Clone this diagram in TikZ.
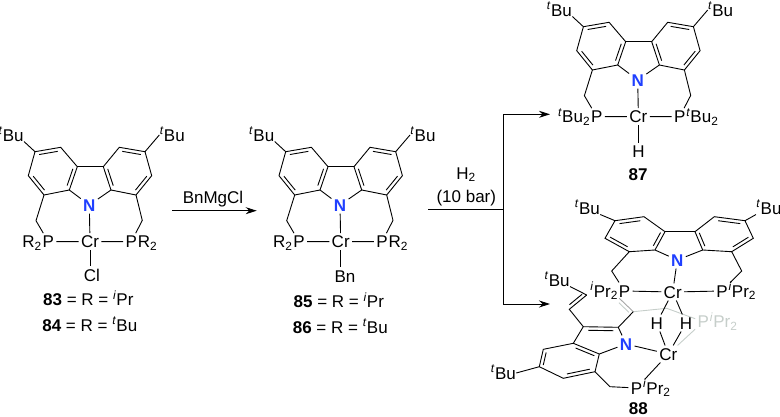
\documentclass[tikz,border=0pt]{standalone}
\usepackage{fontspec}
\setmainfont{Liberation Sans}
\usetikzlibrary{calc,positioning,arrows.meta}

\definecolor{palegrey}{HTML}{C6CECA}
\definecolor{nblue}{HTML}{1F3FFF}
\newcommand{\tBu}{\textsuperscript{\textit{t}}Bu}
\newcommand{\iPr}{\textsuperscript{\textit{i}}Pr}
\newcommand{\two}{\textsubscript{2}}

\tikzset{
    atom/.style={font=\fontsize{17}{19}\selectfont, inner sep=2pt, text height=12.2pt, text depth=0pt},
    subst/.style={atom, inner sep=0pt},
    nitro/.style={atom, font=\fontsize{17}{19}\selectfont\bfseries, text=nblue},
    ghost/.style={atom, text=palegrey},
    rxn/.style={-{Stealth[length=11pt,width=7pt]}},
}

% inner line of a double bond, on the left of (a)->(b)
\newcommand{\dbl}[2]{\draw ($(#1)!.14!(#2)!3.5pt!90:(#2)$) -- ($(#2)!.14!(#1)!3.5pt!-90:(#1)$);}

% rings, arms, N, Cr and both P from coordinates already set
\newcommand{\ligandbody}[1]{
    \node[nitro] (#1N) at (#1pN) {N};
    \node[atom] (#1Cr) at (#1pCr) {Cr};
    \node[atom] (#1Pl) at (#1pPl) {P};
    \node[atom] (#1Pr) at (#1pPr) {P};
    \draw (#1a1) -- (#1a2) -- (#1a3) -- (#1a4) -- (#1a5) -- (#1a6) -- cycle;
    \draw (#1b1) -- (#1b2) -- (#1b3) -- (#1b4) -- (#1b5) -- (#1b6) -- cycle;
    \draw (#1a3) -- (#1b3);
    \draw (#1a4) -- (#1N) -- (#1b4);
    \draw (#1N) -- (#1Cr);
    \draw (#1a5) -- (#1cl) -- (#1Pl) -- (#1Cr) -- (#1Pr) -- (#1cr) -- (#1b5);
    \dbl{#1a2}{#1a1} \dbl{#1a4}{#1a3} \dbl{#1a6}{#1a5}
    \dbl{#1b1}{#1b2} \dbl{#1b3}{#1b4} \dbl{#1b5}{#1b6}
}

% the usual pincer, placed by its N
\newcommand{\ligand}[3]{
    \begin{scope}[shift={(#2,#3)}]
        \coordinate (#1pN) at (0,0);
        \coordinate (#1pCr) at (0.7,36.7);
        \coordinate (#1pPl) at (-41,36.7);
        \coordinate (#1pPr) at (42,36.7);
        \coordinate (#1a1) at (-54.3,-53.3);
        \coordinate (#1a2) at (-28.6,-57.7);
        \coordinate (#1a3) at (-12,-38.3);
        \coordinate (#1a4) at (-20,-15);
        \coordinate (#1a5) at (-45.3,-10);
        \coordinate (#1a6) at (-61,-29.3);
        \coordinate (#1b1) at (55.7,-53.3);
        \coordinate (#1b2) at (30,-57.7);
        \coordinate (#1b3) at (14,-38.3);
        \coordinate (#1b4) at (21.7,-15);
        \coordinate (#1b5) at (46.7,-10);
        \coordinate (#1b6) at (62.4,-29.3);
        \coordinate (#1cl) at (-53.3,15.7);
        \coordinate (#1cr) at (53,15.4);
        \node[subst, anchor=east] (#1tl) at (-65.3,-70) {\tBu};
        \node[subst, anchor=west] (#1tr) at (70,-70) {\tBu};
    \end{scope}
    \ligandbody{#1}
    \draw (#1tl.south east) -- (#1a1);
    \draw (#1tr.west) -- (#1b1);
}

\begin{document}
\begin{tikzpicture}[x=1pt,y=-1pt,line width=.9pt]
    \useasboundingbox (0,0) rectangle (780,417);

    % 83 / 84
    \ligand{A}{89.3}{205}
    \node[subst, left=-2pt of APl] (AR1) {R\two};
    \node[subst, right=-2pt of APr] (AR2) {R\two};
    \node[atom] (ACl) at (92,275) {Cl};
    \draw (ACr) -- (ACr |- ACl.north);
    \node[subst] (L83) at (88.3,299.3) {\textbf{83} = R = \iPr};
    \node[subst] (L84) at (89.8,325) {\textbf{84} = R = \tBu};

    % 85 / 86
    \ligand{B}{340}{205}
    \node[subst, left=-2pt of BPl] (BR1) {R\two};
    \node[subst, right=-2pt of BPr] (BR2) {R\two};
    \node[atom] (BBn) at (345,276) {Bn};
    \draw (BCr) -- (BCr |- BBn.north);
    \node[subst] (L85) at (338.8,301.5) {\textbf{85} = R = \iPr};
    \node[subst] (L86) at (340.3,327) {\textbf{86} = R = \tBu};

    % 87
    \ligand{C}{637.7}{80}
    \node[subst, left=-2pt of CPl] (CR1) {\tBu\two};
    \node[subst, right=-2pt of CPr] (CR2) {\tBu\two};
    \node[atom] (CH) at (638.4,151.7) {H};
    \draw (CCr) -- (CH);
    \node[subst] (L87) at (638,174) {\textbf{87}};

    % reaction arrows
    \coordinate (S1) at (172,210.7);
    \coordinate (S2) at (256.7,210.7);
    \draw[rxn] (S1) -- (S2);
    \node[subst] (T1) at (213,197) {BnMgCl};
    \coordinate (S3) at (428.3,209.3);
    \coordinate (S4) at (503.3,209.3);
    \coordinate (S5) at (503.3,114.3);
    \coordinate (S6) at (550,114.3);
    \coordinate (S7) at (503.3,304);
    \coordinate (S8) at (550,304);
    \draw (S3) -- (S4);
    \draw[rxn] (S4) -- (S5) -- (S6);
    \draw[rxn] (S4) -- (S7) -- (S8);
    \node[subst] (T2) at (466,173) {H\two};
    \node[subst] (T3) at (466.3,196.7) {(10 bar)};

    % 88, upper half
    \coordinate (DpN) at (677.3,260);
    \coordinate (DpCr) at (672.7,292);
    \coordinate (DpPl) at (624.5,291);
    \coordinate (DpPr) at (722,291);
    \coordinate (Da1) at (615,220.7);
    \coordinate (Da2) at (644,216.7);
    \coordinate (Da3) at (665,231.7);
    \coordinate (Da4) at (655,250);
    \coordinate (Da5) at (629.3,251.7);
    \coordinate (Da6) at (605,238.3);
    \coordinate (Db1) at (745,220.7);
    \coordinate (Db2) at (714.3,216.7);
    \coordinate (Db3) at (695,231.7);
    \coordinate (Db4) at (702.7,250);
    \coordinate (Db5) at (731.7,251.7);
    \coordinate (Db6) at (753.3,238.3);
    \coordinate (Dcl) at (611.7,271);
    \coordinate (Dcr) at (741.7,271);

    % pale part behind
    \coordinate (G0) at (619.3,298.3);
    \coordinate (G1) at (633.3,311.7);
    \coordinate (G2) at (666.7,308.3);
    \node[ghost] (GP) at (703.3,321.7) {P};
    \node[ghost, subst, text=palegrey, right=-2pt of GP] (GR) {\iPr\two};
    \node[atom] (Cr2) at (668.3,354) {Cr};
    \draw[palegrey] (G1) -- (G2) -- (GP);
    \draw[palegrey] (GP) -- (Cr2);
    \draw[gray!70] (G1) -- (G0);
    \begin{scope}[palegrey]
        \dbl{G1}{G0}
    \end{scope}

    \ligandbody{D}
    \node[subst, left=-2pt of DPl] (DR1) {\iPr\two};
    \node[subst, right=-2pt of DPr] (DR2) {\iPr\two};
    \node[subst, anchor=east] (Dtl) at (600.3,208) {\tBu};
    \node[subst, anchor=west] (Dtr) at (756,208) {\tBu};
    \draw (Dtl.south east) -- (Da1);
    \draw (Dtr.south west) -- (Db1);

    % 88, lower half
    \node[atom] (H1) at (656.7,323) {H};
    \node[atom] (H2) at (686,323) {H};
    \draw (DCr) -- (H1) -- (Cr2);
    \draw (DCr) -- (H2) -- (Cr2);
    \node[nitro] (N2) at (626,344) {N};
    \node[atom] (P3) at (636.5,388) {P};
    \node[subst, right=-2pt of P3] (R3) {\iPr\two};
    \coordinate (c1) at (618.3,327.3);
    \coordinate (c2) at (583.3,326.7);
    \coordinate (c3) at (573.3,343.3);
    \coordinate (c4) at (599.3,354);
    \coordinate (d1) at (539.3,366.7);
    \coordinate (d2) at (543.3,349.3);
    \coordinate (d5) at (595,371.7);
    \coordinate (d6) at (563.3,378.3);
    \coordinate (e1) at (569.3,309.3);
    \coordinate (e2) at (586.7,295);
    \coordinate (ch) at (610,386.7);
    \draw (G1) -- (c1) -- (c2) -- (c3) -- (c4) -- (N2) -- (c1);
    \draw (c3) -- (d2) -- (d1) -- (d6) -- (d5) -- (c4);
    \draw (N2) -- (Cr2);
    \draw (Cr2) -- (P3.north east);
    \draw (d5) -- (ch) -- (P3);
    \draw (c2) -- (e1) -- (e2);
    \dbl{c1}{c2} \dbl{c4}{c3} \dbl{d2}{d1} \dbl{d6}{d5} \dbl{e1}{e2}
    \node[subst, anchor=east] (Et) at (570,280) {\tBu};
    \draw (e2) -- (Et.south east);
    \node[subst] (Ft) at (503.3,373) {\tBu};
    \draw (Ft.east) -- (d1);
    \node[subst] (L88) at (638.3,408) {\textbf{88}};
\end{tikzpicture}
\end{document}
